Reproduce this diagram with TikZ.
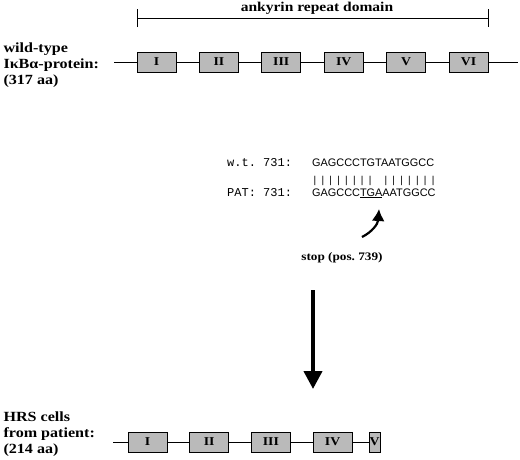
\documentclass[tikz,border=0pt]{standalone}
\usepackage{fontspec}
\setmainfont{Liberation Serif}
\setsansfont{Liberation Sans}
\setmonofont{Liberation Mono}
\newfontfamily\labelfont[FakeStretch=1.15]{Liberation Serif}
\usetikzlibrary{arrows.meta}

\begin{document}
\begin{tikzpicture}[x=1pt, y=-1pt,
	repeatbox/.style={draw=black, line width=1pt, fill=black!27!white, minimum width=39pt, minimum height=20pt, inner sep=0pt, font=\labelfont\bfseries\fontsize{12}{12}\selectfont},
	sidelabel/.style={anchor=west, align=left, font=\labelfont\bfseries\fontsize{14}{16}\selectfont},
	seqlabel/.style={anchor=base west, inner sep=0pt, font=\ttfamily\fontsize{12}{12}\selectfont},
	seqtext/.style={anchor=base west, inner sep=0pt, font=\sffamily\fontsize{10.9}{11}\selectfont},
	seqbar/.style={inner sep=0pt, font=\sffamily\fontsize{10}{10}\selectfont}]

	\useasboundingbox (0,0) rectangle (520,459);

	% ankyrin repeat domain
	\coordinate (domleft) at (137,18);
	\coordinate (domright) at (489,18);
	\draw[line width=0.9pt, {Bar[width=18pt]}-{Bar[width=18pt]}] (domleft) -- (domright);
	\node[anchor=base, font=\labelfont\bfseries\fontsize{13.5}{16}\selectfont] (domlabel) at (317,11) {ankyrin repeat domain};

	% wild-type protein
	\node[sidelabel] (wtlabel) at (0,65) {wild-type\\IκBα-protein:\\(317 aa)};
	\coordinate (wtstart) at (114,62);
	\coordinate (wtend) at (518,62);
	\draw[line width=0.9pt] (wtstart) -- (wtend);
	\foreach \n [count=\i from 0] in {I,II,III,IV,V,VI} {
		\node[repeatbox] (wt\n) at (156.5+62.4*\i,62) {\n};
	}

	% sequences
	\node[seqlabel] (wtpos) at (227,166) {w.t.\ 731:};
	\node[seqtext] (wtseq) at (312,166) {GAGCCCTGTAATGGCC};
	\foreach \i in {0,1,2,3,4,5,6,7,9,10,11,12,13,14,15} {
		\node[seqbar] (bar\i) at (315+7.87*\i,181) {|};
	}
	\node[seqlabel] (patpos) at (227,196) {PAT:\ 731:};
	\node[seqtext] (patseq) at (312,196) {GAGCCC\underline{TGA}AATGGCC};

	% stop codon
	\node[anchor=base, font=\labelfont\bfseries\fontsize{11.5}{13}\selectfont] (stoplabel) at (342,260) {stop (pos.\ 739)};
	\coordinate (stoptail) at (362,237);
	\coordinate (stoptip) at (379,209);
	\draw[line width=2.2pt, -{Latex[length=12pt,width=13pt]}] (stoptail) .. controls (372,232) and (378,224) .. (stoptip);

	% truncation
	\coordinate (arrowtop) at (313,290);
	\coordinate (arrowtip) at (313,389);
	\draw[line width=4pt, -{Triangle[length=18pt,width=18pt]}] (arrowtop) -- (arrowtip);

	% truncated protein
	\node[sidelabel] (patlabel) at (0,434) {HRS cells\\from patient:\\(214 aa)};
	\coordinate (patstart) at (113,442);
	\coordinate (patend) at (369,442);
	\draw[line width=0.9pt] (patstart) -- (patend);
	\foreach \n [count=\i from 0] in {I,II,III,IV} {
		\node[repeatbox] (pat\n) at (147.5+61.7*\i,442) {\n};
	}
	\node[repeatbox, minimum width=11pt] (patV) at (374.5,442) {V};

\end{tikzpicture}
\end{document}
